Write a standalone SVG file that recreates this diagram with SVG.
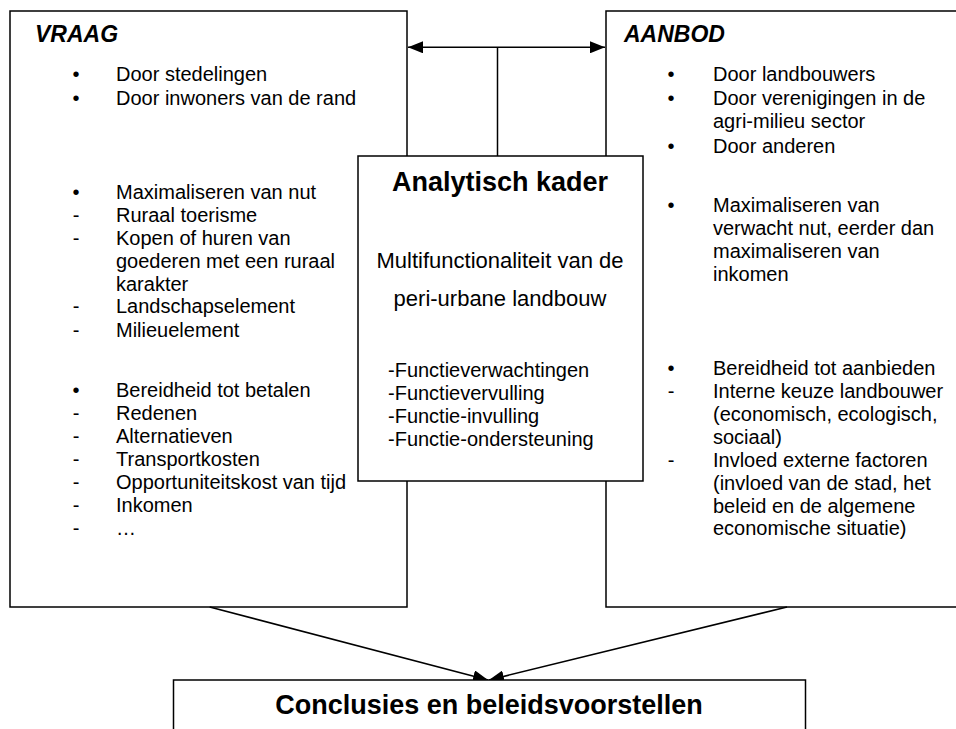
<svg xmlns="http://www.w3.org/2000/svg" width="956" height="729" viewBox="0 0 956 729">
<style>
.box{fill:#fff;stroke:#000;stroke-width:1.5}
.conn{fill:none;stroke:#000;stroke-width:1.5}
text{font-family:"Liberation Sans",Arial,sans-serif;fill:#000}
.t{font-size:20px}
.c{font-size:22px}
.h{font-size:23px;font-weight:bold;font-style:italic}
.b{font-size:27px;font-weight:bold}
.m{text-anchor:middle}
</style>
<defs>
<marker id="ah" markerUnits="userSpaceOnUse" markerWidth="15" markerHeight="12" refX="15" refY="6" orient="auto-start-reverse" viewBox="0 0 15 12">
<path d="M0,0 L15,6 L0,12 z" fill="#000"/>
</marker>
</defs>
<rect width="956" height="729" fill="#fff"/>
<g id="vraag">
<rect class="box" x="10" y="11" width="397" height="596"/>
<text class="h" x="35" y="42">VRAAG</text>
<g class="t m">
<text x="76" y="81">•</text><text x="76" y="105">•</text><text x="76" y="199">•</text>
<text x="76" y="222">-</text><text x="76" y="245">-</text><text x="76" y="313">-</text><text x="76" y="337">-</text>
<text x="76" y="397">•</text>
<text x="76" y="420">-</text><text x="76" y="443">-</text><text x="76" y="466">-</text><text x="76" y="489">-</text><text x="76" y="512">-</text><text x="76" y="535">-</text>
</g>
<g class="t">
<text x="116" y="81">Door stedelingen</text>
<text x="116" y="105">Door inwoners van de rand</text>
<text x="116" y="199">Maximaliseren van nut</text>
<text x="116" y="222">Ruraal toerisme</text>
<text x="116" y="245">Kopen of huren van</text>
<text x="116" y="268">goederen met een ruraal</text>
<text x="116" y="291">karakter</text>
<text x="116" y="313">Landschapselement</text>
<text x="116" y="337">Milieuelement</text>
<text x="116" y="397">Bereidheid tot betalen</text>
<text x="116" y="420">Redenen</text>
<text x="116" y="443">Alternatieven</text>
<text x="116" y="466">Transportkosten</text>
<text x="116" y="489">Opportuniteitskost van tijd</text>
<text x="116" y="512">Inkomen</text>
<text x="116" y="535">…</text>
</g>
</g>
<g id="aanbod">
<rect class="box" x="606" y="11" width="370" height="596"/>
<text class="h" x="624" y="42">AANBOD</text>
<g class="t m">
<text x="671" y="81">•</text><text x="671" y="105">•</text><text x="671" y="153">•</text><text x="671" y="212">•</text><text x="671" y="375">•</text>
<text x="671" y="398">-</text><text x="671" y="467">-</text>
</g>
<g class="t">
<text x="713" y="81">Door landbouwers</text>
<text x="713" y="105">Door verenigingen in de</text>
<text x="713" y="128">agri-milieu sector</text>
<text x="713" y="153">Door anderen</text>
<text x="713" y="212">Maximaliseren van</text>
<text x="713" y="235">verwacht nut, eerder dan</text>
<text x="713" y="258">maximaliseren van</text>
<text x="713" y="281">inkomen</text>
<text x="713" y="375">Bereidheid tot aanbieden</text>
<text x="713" y="398">Interne keuze landbouwer</text>
<text x="713" y="421">(economisch, ecologisch,</text>
<text x="713" y="444">sociaal)</text>
<text x="713" y="467">Invloed externe factoren</text>
<text x="713" y="490">(invloed van de stad, het</text>
<text x="713" y="513">beleid en de algemene</text>
<text x="713" y="535">economische situatie)</text>
</g>
</g>
<g id="connectors">
<line class="conn" x1="408" y1="47.3" x2="605" y2="47.3" marker-start="url(#ah)" marker-end="url(#ah)"/>
<line class="conn" x1="497.5" y1="47.3" x2="497.5" y2="156"/>
<line class="conn" x1="209.7" y1="607" x2="488" y2="680" marker-end="url(#ah)"/>
<line class="conn" x1="787" y1="607" x2="489" y2="680" marker-end="url(#ah)"/>
</g>
<g id="kader">
<rect class="box" x="358" y="156" width="285" height="325"/>
<text class="b m" x="500" y="191">Analytisch kader</text>
<text class="c m" x="500" y="268">Multifunctionaliteit van de</text>
<text class="c m" x="500" y="306">peri-urbane landbouw</text>
<g class="t">
<text x="388" y="377">-Functieverwachtingen</text>
<text x="388" y="400">-Functievervulling</text>
<text x="388" y="423">-Functie-invulling</text>
<text x="388" y="446">-Functie-ondersteuning</text>
</g>
</g>
<g id="conclusies">
<rect class="box" x="173.5" y="680" width="632" height="60"/>
<text class="b m" x="489" y="714">Conclusies en beleidsvoorstellen</text>
</g>
</svg>
